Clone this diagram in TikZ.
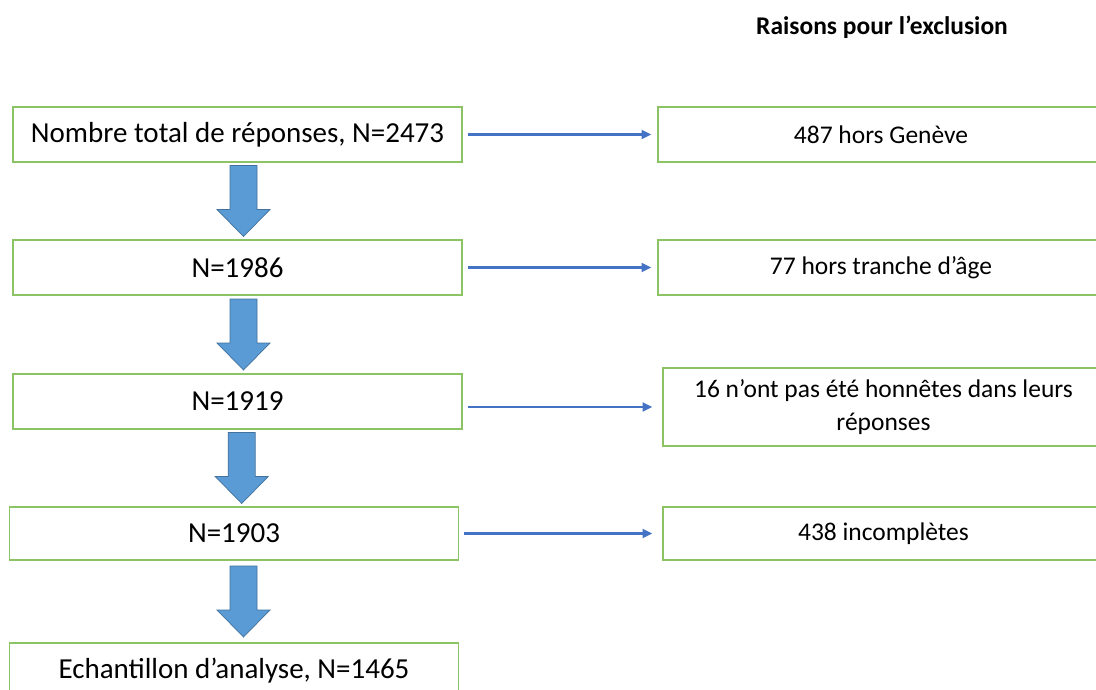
\documentclass[tikz,border=0pt]{standalone}
\usepackage{fontspec}
\setmainfont{Carlito}
\usetikzlibrary{arrows.meta}
\definecolor{boxgreen}{RGB}{140,195,100}
\definecolor{flowblue}{RGB}{91,155,213}
\definecolor{flowedge}{RGB}{65,113,156}
\definecolor{linkblue}{RGB}{68,114,196}
\begin{document}
\begin{tikzpicture}[x=0.02cm,y=-0.02cm,
	box/.style={draw=boxgreen,line width=0.85pt,inner sep=0pt,align=center},
	mainbox/.style={box,minimum width=8.98cm,minimum height=1.1cm,font=\fontsize{16.5}{19}\selectfont},
	reasonbox/.style={box,minimum height=1.1cm,font=\fontsize{14.5}{19}\selectfont},
	flow/.pic={\draw[draw=flowedge,line width=0.4pt,fill=flowblue]
		(-13.5,-35.5) -- (13.5,-35.5) -- (13.5,8.5) -- (26.5,8.5) -- (0,35.5)
		-- (-26.5,8.5) -- (-13.5,8.5) -- cycle;},
	link/.style={draw=linkblue,line width=1.4pt,-{Triangle[length=5.5pt,width=5pt]},shorten <=0.1cm}]
	\useasboundingbox (0,0) rectangle (1096,690);

	% title
	\node[anchor=base,font=\bfseries\fontsize{14.5}{17}\selectfont] (titre) at (882,34) {Raisons pour l’exclusion};

	% main column
	\node[mainbox] (l1) at (237.5,134.5) {Nombre total de réponses, N=2473};
	\node[mainbox] (l2) at (237.5,267.5) {N=1986};
	\node[mainbox] (l3) at (237.5,401.5) {N=1919};
	\node[mainbox,minimum height=1.06cm] (l4) at (234,533.5) {N=1903};
	\node[mainbox] (l5) at (234,670.5) {Echantillon d’analyse, N=1465};

	% exclusions
	\node[reasonbox,minimum width=8.92cm] (r1) at (881,134.5) {487 hors Genève};
	\node[reasonbox,minimum width=8.92cm] (r2) at (881,267.5) {77 hors tranche d’âge};
	\node[reasonbox,minimum width=8.82cm,minimum height=1.56cm] (r3) at (883.5,407)
		{16 n’ont pas été honnêtes dans leurs\\réponses};
	\node[reasonbox,minimum width=8.82cm,minimum height=1.06cm] (r4) at (883.5,533.5) {438 incomplètes};

	% block arrows down
	\path (l1) -- coordinate[xshift=0.12cm] (f1) (l2);
	\path (l2) -- coordinate[xshift=0.12cm] (f2) (l3);
	\path (l3) -- coordinate[xshift=0.12cm] (f3) (l4);
	\path (l4) -- coordinate[xshift=0.19cm] (f4) (l5);
	\foreach \f in {f1,f2,f3,f4}
		\pic at (\f) {flow};

	% links to reasons
	\draw[link,shorten >=0.12cm] (l1.east) -- (r1.west);
	\draw[link,shorten >=0.12cm] (l2.east) -- (r2.west);
	\draw[link,shorten >=0.2cm] (l3.east |- r3.west) -- (r3.west);
	\draw[link,shorten >=0.2cm] (l4.east) -- (r4.west);
\end{tikzpicture}
\end{document}
